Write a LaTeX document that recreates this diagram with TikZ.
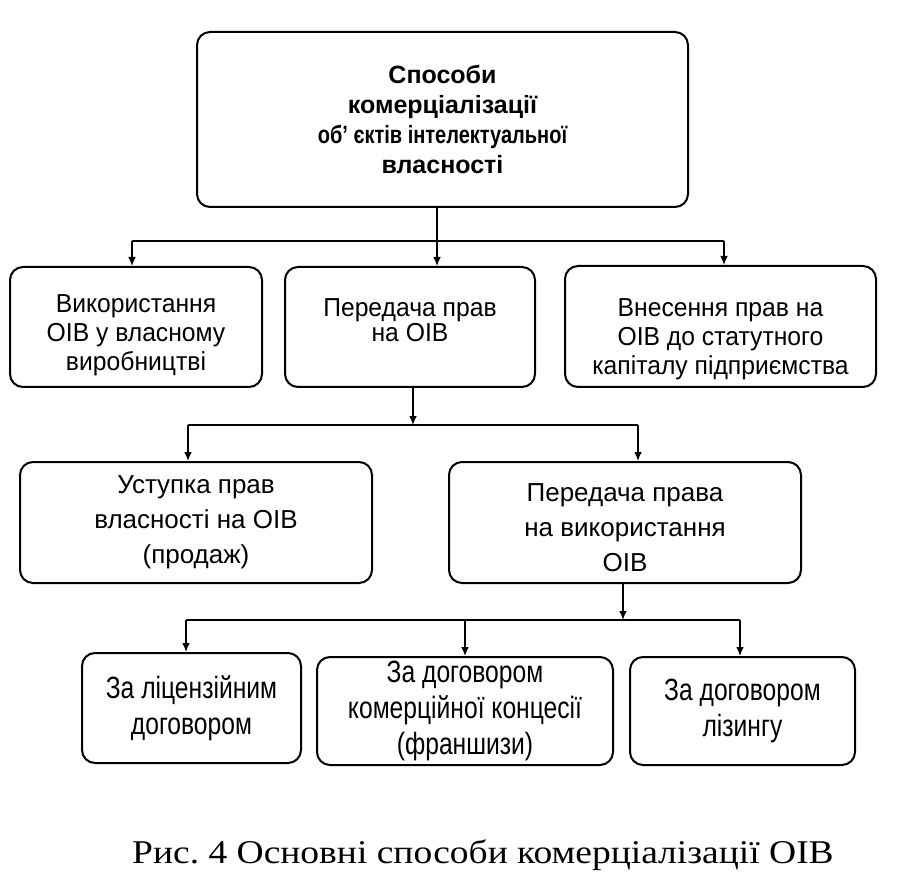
\documentclass[tikz,border=0pt]{standalone}
\usepackage{fontspec}
\setmainfont{Liberation Sans}
\newfontfamily\boxfontA{Liberation Sans}[FakeStretch=0.95]
\newfontfamily\boxfontB{Liberation Sans}[FakeStretch=1.0]
\newfontfamily\boxfontC{Liberation Sans}[FakeStretch=0.8]
\newfontfamily\titlefont{Liberation Sans Bold}[FakeStretch=1.0]
\newfontfamily\titlefontN{Liberation Sans Bold}[FakeStretch=0.8]
\newfontfamily\capfont{Liberation Serif}[FakeStretch=1.13]
\usetikzlibrary{arrows.meta}
\frenchspacing
\begin{document}
\begin{tikzpicture}[x=0.5pt,y=-0.5pt,
  box/.style={draw, line width=1pt, rounded corners=6.5pt, align=center, inner sep=0pt},
  rowA/.style={box, font=\boxfontA\fontsize{13}{14.5}\selectfont},
  rowB/.style={box, font=\boxfontB\fontsize{13}{17.5}\selectfont},
  rowC/.style={box, font=\boxfontC\fontsize{15.4}{18}\selectfont},
  conn/.style={line width=0.7pt},
  arr/.style={conn, -{Latex[length=4.5pt,width=3.8pt]}}]
\useasboundingbox (0,0) rectangle (900,893);
\fill[white] (0,0) rectangle (900,893);
% boxes
\node[box, font=\titlefont\fontsize{12.5}{15}\selectfont, minimum width=245.5pt, minimum height=87.5pt] (top) at (442.5,119.5)
  {Способи\\комерціалізації\\{\titlefontN об’ єктів інтелектуальної}\\власності};
\node[rowA, minimum width=126pt, minimum height=60pt] (b1) at (136,327)
  {\rule{0pt}{17.3pt}Використання\\ОІВ у власному\\виробництві};
\node[rowA, font=\boxfontA\fontsize{13}{11.5}\selectfont, minimum width=125pt, minimum height=60pt] (b2) at (410,327)
  {Передача прав\\на ОІВ\\[-4.5pt]};
\node[rowA, minimum width=155.5pt, minimum height=60.5pt] (b3) at (720.5,326.5)
  {\rule{0pt}{21.3pt}Внесення прав на\\ОІВ до статутного\\капіталу підприємства};
\node[rowB, minimum width=176pt, minimum height=60.5pt] (b4) at (196,522.5)
  {Уступка прав\\власності на ОІВ\\(продаж)};
\node[rowB, minimum width=176pt, minimum height=60.5pt] (b5) at (625,522.5)
  {\rule{0pt}{14.3pt}Передача права\\на використання\\ОІВ};
\node[rowC, minimum width=109.5pt, minimum height=55pt] (b6) at (191.5,708)
  {За ліцензійним\\договором};
\node[rowC, minimum width=148pt, minimum height=54pt] (b7) at (465,711)
  {За договором\\комерційної концесії\\(франшизи)};
\node[rowC, minimum width=112.5pt, minimum height=54pt] (b8) at (742.5,711)
  {За договором\\лізингу};
\node[font=\capfont\fontsize{16.6}{20}\selectfont] (cap) at (483,855)
  {Рис. 4 Основні способи комерціалізації ОІВ};
% junction coordinates
\coordinate (t0) at (437,241);
\coordinate (t1) at (132,241);
\coordinate (t3) at (724,241);
\coordinate (u0) at (413,425);
\coordinate (u1) at (188,425);
\coordinate (u2) at (638,425);
\coordinate (v0) at (623,620);
\coordinate (v1) at (186,620);
\coordinate (v2) at (465,620);
\coordinate (v3) at (740,620);
% connectors level 1
\draw[arr] (top.south -| t0) -- (b2.north -| t0);
\draw[conn] (t1) -- (t3);
\draw[arr] (t1) -- (b1.north -| t1);
\draw[arr] (t3) -- (b3.north -| t3);
% level 2
\draw[arr] (b2.south -| u0) -- (u0);
\draw[conn] (u1) -- (u2);
\draw[arr] (u1) -- (b4.north -| u1);
\draw[arr] (u2) -- (b5.north -| u2);
% level 3
\draw[arr] (b5.south -| v0) -- (v0);
\draw[conn] (v1) -- (v3);
\draw[arr] (v1) -- (b6.north -| v1);
\draw[arr] (v2) -- (b7.north -| v2);
\draw[arr] (v3) -- (b8.north -| v3);
\end{tikzpicture}
\end{document}
